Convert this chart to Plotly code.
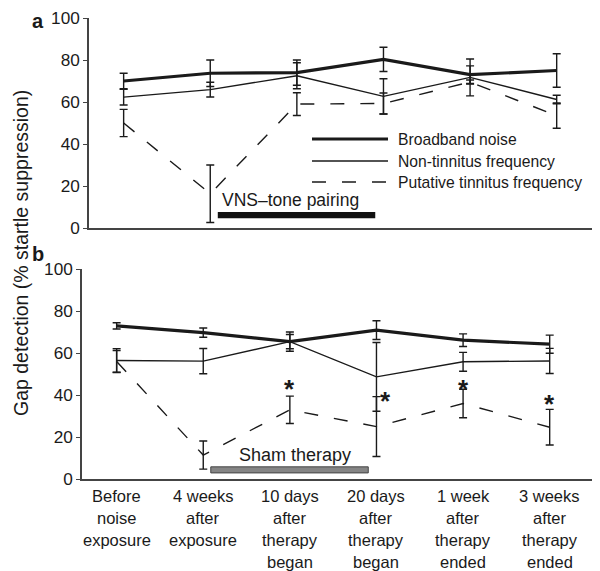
import plotly.graph_objects as go

# ---------------- data ----------------
categories = [0, 1, 2, 3, 4, 5]
tick_lines = [
    ["Before", "noise", "exposure", ""],
    ["4 weeks", "after", "exposure", ""],
    ["10 days", "after", "therapy", "began"],
    ["20 days", "after", "therapy", "began"],
    ["1 week", "after", "therapy", "ended"],
    ["3 weeks", "after", "therapy", "ended"],
]

# panel a (VNS-tone pairing)
broadband_a = [70, 73.7, 74, 80.3, 73, 75]
broadband_a_err = [3.7, 6.3, 6, 5.8, 4.2, 8]
nontin_a = [62.3, 65.9, 72.5, 62.7, 71.7, 61.2]
nontin_a_err = [3.7, 3.5, 6.2, 8.4, 8.8, 2]
tin_a = [50, 16.3, 59, 59.3, 69.5, 53.5]
tin_a_err = [6.5, 13.7, 5.4, 5, 1.0, 6]

# panel b (sham therapy)
broadband_b = [73, 69.8, 65.5, 71, 66.2, 64.3]
broadband_b_err = [1.5, 2.2, 4.6, 4.5, 3, 4.3]
nontin_b = [56.5, 56.2, 65.5, 48.7, 55.9, 56.3]
nontin_b_err = [5.6, 6, 3.4, 16.4, 4.5, 6]
tin_b = [56, 11.4, 33, 25, 36, 24.7]
tin_b_err = [5.2, 6.7, 6.5, 14.3, 6.8, 8.5]

star_x = [2, 3.1, 4, 5]
star_y = [44.8, 39, 44.8, 37.6]

therapy_bar = [1.087, 2.905]  # x extent of therapy bars
legend_names = ["Broadband noise", "Non-tinnitus frequency", "Putative tinnitus frequency"]

FONT = "Liberation Sans, Arial, sans-serif"
INK = "#1a1a1a"
OFF = 8                      # page body margin in the browser
W, H = 600 - OFF, 571 - OFF  # figure size so that it fills the window


def px_x(p):
    """screen pixel -> paper fraction"""
    return (p - OFF) / W


def px_y(p):
    return 1 - (p - OFF) / H


fig = go.Figure()

styles = [dict(width=3.2, dash="solid"), dict(width=1.4, dash="solid"), dict(width=1.4, dash="14px,16px")]


def add_panel(series, xa, ya):
    for (vals, errs), st, name in zip(series, styles, legend_names):
        fig.add_trace(go.Scatter(
            x=categories, y=vals, mode="lines", name=name, showlegend=False,
            line=dict(color=INK, width=st["width"], dash=st["dash"]),
            error_y=dict(type="data", array=errs, visible=True, color=INK, thickness=1.4, width=4),
            xaxis=xa, yaxis=ya, cliponaxis=False,
        ))


add_panel([(broadband_a, broadband_a_err), (nontin_a, nontin_a_err), (tin_a, tin_a_err)], "x", "y")
add_panel([(broadband_b, broadband_b_err), (nontin_b, nontin_b_err), (tin_b, tin_b_err)], "x2", "y2")

axis_common = dict(showgrid=False, zeroline=False, showline=True, linecolor="#444", linewidth=1.5, automargin=False)
tickfont = dict(size=17.2, family=FONT, color=INK)

fig.update_layout(
    template="none",
    width=W, height=H, margin=dict(l=0, r=0, t=0, b=0, pad=0, autoexpand=False),
    paper_bgcolor="white", plot_bgcolor="white", showlegend=False,
    font=dict(family=FONT, color=INK),
    xaxis=dict(domain=[px_x(89), 1.0], range=[-0.4, -0.4 + (600 - 89) / (593 - 82) * 5.9],
               showticklabels=False, ticks="", anchor="y", **axis_common),
    yaxis=dict(domain=[px_y(228), px_y(18)], range=[0, 100], tickvals=[0, 20, 40, 60, 80, 100], ticks="outside",
               ticklen=4, tickcolor="#444", tickfont=tickfont, anchor="x", ticklabeloverflow="allow", **axis_common),
    xaxis2=dict(domain=[px_x(82), px_x(593)], range=[-0.4, 5.5], showticklabels=False, ticks="", anchor="y2",
                **axis_common),
    yaxis2=dict(domain=[px_y(479), px_y(269.3)], range=[0, 100], tickvals=[0, 20, 40, 60, 80, 100], ticks="outside",
                ticklen=4, tickcolor="#444", tickfont=tickfont, anchor="x2", ticklabeloverflow="allow",
                **axis_common),
)

shapes = []
annotations = []

# therapy bars
shapes.append(dict(type="rect", xref="x", yref="y", x0=therapy_bar[0], x1=therapy_bar[1], y0=4.6, y1=7.6,
                   fillcolor="#111", line=dict(width=0)))
shapes.append(dict(type="rect", xref="x2", yref="y2", x0=therapy_bar[0], x1=therapy_bar[1], y0=2.9, y1=5.8,
                   fillcolor="#858585", line=dict(width=1, color="#444")))
annotations.append(dict(text="VNS\u2013tone pairing", xref="x", yref="y", x=therapy_bar[0] + 0.03, y=13.2, xanchor="left",
                        yanchor="middle", showarrow=False, font=dict(size=17.5, family=FONT, color=INK)))
annotations.append(dict(text="Sham therapy", xref="x2", yref="y2", x=therapy_bar[0] + 0.3, y=11.5, xanchor="left",
                        yanchor="middle", showarrow=False, font=dict(size=18, family=FONT, color=INK)))

# custom legend in panel a
leg_y = [139, 161, 182]
for name, st, yy in zip(legend_names, styles, leg_y):
    shapes.append(dict(type="line", xref="paper", yref="paper", x0=px_x(312), x1=px_x(388), y0=px_y(yy), y1=px_y(yy),
                       line=dict(color=INK, width=st["width"], dash=st["dash"])))
    annotations.append(dict(text=name, xref="paper", yref="paper", x=px_x(396), y=px_y(yy), xanchor="left",
                            yanchor="middle", showarrow=False, font=dict(size=15.7, family=FONT, color=INK)))

# asterisks
for sx, sy in zip(star_x, star_y):
    annotations.append(dict(text="<b>*</b>", xref="x2", yref="y2", x=sx, y=sy, xanchor="center", yanchor="middle",
                            yshift=-4, showarrow=False, font=dict(size=26, family=FONT, color=INK)))

# x tick labels for panel b (one annotation per line for line spacing)
for cx, lines in zip(categories, tick_lines):
    for i, t in enumerate(lines):
        if not t:
            continue
        annotations.append(dict(text=t, xref="x2", yref="y2", x=cx, y=0, xanchor="center", yanchor="middle",
                                yshift=-17 - 22 * i, showarrow=False, font=dict(size=16.5, family=FONT, color=INK)))

# panel letters
annotations.append(dict(text="<b>a</b>", xref="paper", yref="paper", x=px_x(38), y=px_y(8), xanchor="center",
                        yanchor="top", showarrow=False, font=dict(size=20, family=FONT, color=INK)))
annotations.append(dict(text="<b>b</b>", xref="paper", yref="paper", x=px_x(38), y=px_y(254), xanchor="center",
                        yanchor="middle", showarrow=False, font=dict(size=20, family=FONT, color=INK)))

# y axis title
annotations.append(dict(text="Gap detection (% startle suppression)", xref="paper", yref="paper", x=px_x(8),
                        y=px_y(253), xanchor="left", yanchor="middle", textangle=-90, showarrow=False,
                        font=dict(size=19.5, family=FONT, color=INK)))

fig.update_layout(shapes=shapes, annotations=annotations)
fig.write_html("out.html")
